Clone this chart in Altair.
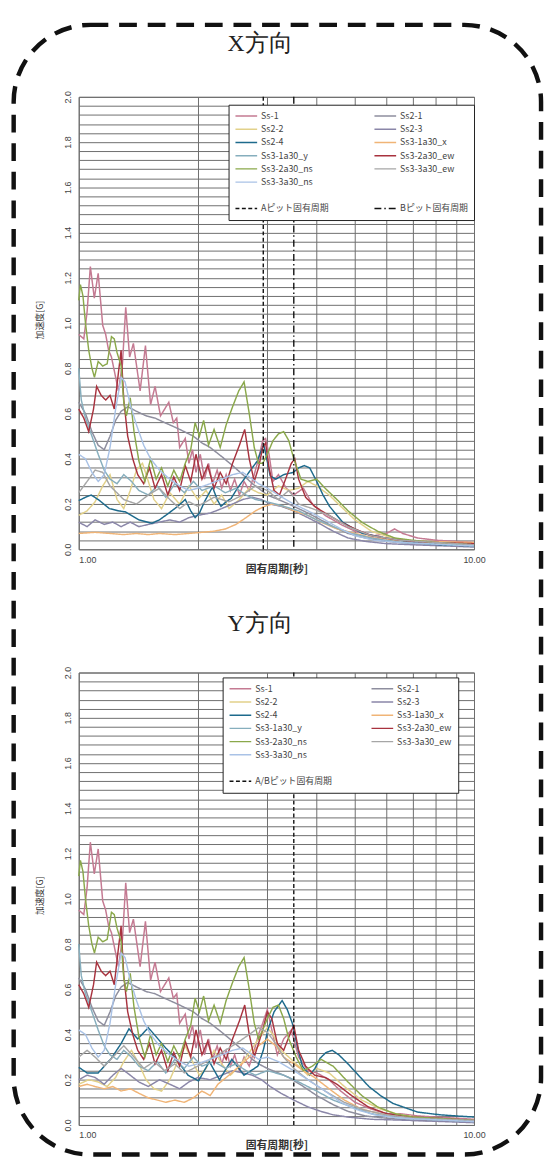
import altair as alt
import pandas as pd

# ---------------------------------------------------------------- categories
SERIES = ["Ss-1", "Ss2-1", "Ss2-2", "Ss2-3", "Ss2-4", "Ss3-1a30_x",
          "Ss3-1a30_y", "Ss3-2a30_ew", "Ss3-2a30_ns", "Ss3-3a30_ew", "Ss3-3a30_ns"]
COLORS = ["#c47a92", "#8e8e9e", "#e2d18a", "#8a86a8", "#1d6a8c", "#f0b476",
          "#86aebd", "#a8323e", "#8aa84a", "#a6a6a6", "#a9c2e6"]
WIDTHS = [1.5, 1.4, 1.5, 1.4, 2.7, 1.5, 1.4, 2.0, 1.9, 1.4, 1.4]
BLANKS = [" ", "  ", "   "]

PANEL_TITLES = ["X方向", "Y方向"]

X_PIT_NAMES = ["Aピット固有周期", "Bピット固有周期"]
X_PIT_PERIODS = [2.93, 3.5]
X_PIT_DASHES = [[4, 2.5], [7, 3, 1.5, 3]]
Y_PIT_NAMES = ["A/Bピット固有周期"]
Y_PIT_PERIODS = [3.5]
Y_PIT_DASHES = [[4, 2.5]]

PERIOD_TICKS = [1, 2, 3, 4, 5, 6, 7, 8, 9, 10]
ACC_GRID = [round(0.04 * i, 2) for i in range(51)]

# ---------------------------------------------------------------- series (period [s], acceleration [G])
SS1_COMMON = [(1.00, 0.95), (1.03, 0.93), (1.05, 1.05), (1.07, 1.25), (1.095, 1.11), (1.12, 1.22),
              (1.15, 0.99), (1.17, 0.95), (1.19, 0.88), (1.21, 0.85), (1.24, 0.76), (1.26, 0.70),
              (1.29, 0.82), (1.315, 1.07), (1.345, 0.85), (1.375, 0.91), (1.43, 0.70), (1.475, 0.90),
              (1.52, 0.64), (1.56, 0.72), (1.61, 0.59), (1.65, 0.62), (1.69, 0.65), (1.735, 0.56),
              (1.77, 0.58), (1.80, 0.45), (1.86, 0.49), (1.90, 0.38), (1.94, 0.44), (1.98, 0.34),
              (2.03, 0.42), (2.08, 0.31), (2.13, 0.38), (2.18, 0.29), (2.24, 0.35), (2.30, 0.27),
              (2.36, 0.33), (2.42, 0.26), (2.48, 0.31), (2.55, 0.24), (2.62, 0.30), (2.70, 0.26),
              (2.78, 0.33), (2.85, 0.40)]
SS1_X_LONG = [(2.92, 0.48), (2.97, 0.49), (3.03, 0.42), (3.10, 0.30), (3.20, 0.33), (3.35, 0.27),
              (3.50, 0.24), (3.70, 0.27), (3.90, 0.20), (4.20, 0.15), (4.60, 0.11), (5.00, 0.08),
              (5.60, 0.06), (6.00, 0.07), (6.30, 0.09), (6.60, 0.07), (7.20, 0.05), (8.00, 0.04),
              (9.00, 0.035), (10.0, 0.03)]
SS1_Y_LONG = [(2.92, 0.45), (3.00, 0.51), (3.08, 0.42), (3.18, 0.31), (3.30, 0.38), (3.45, 0.42),
              (3.60, 0.30), (3.80, 0.24), (4.00, 0.23), (4.30, 0.20), (4.60, 0.15), (5.00, 0.10),
              (5.50, 0.07), (6.00, 0.05), (6.50, 0.05), (7.20, 0.04), (8.00, 0.035), (9.00, 0.03),
              (10.0, 0.025)]

NS2_COMMON = [(1.00, 1.10), (1.01, 1.17), (1.025, 1.12), (1.04, 1.00), (1.06, 0.88), (1.08, 0.80),
              (1.096, 0.76), (1.12, 0.83), (1.15, 0.81), (1.18, 0.82), (1.21, 0.94), (1.23, 0.93),
              (1.25, 0.87), (1.28, 0.81), (1.30, 0.65), (1.32, 0.59), (1.35, 0.67), (1.38, 0.52),
              (1.42, 0.39), (1.47, 0.30), (1.52, 0.40), (1.57, 0.31), (1.62, 0.36), (1.68, 0.28),
              (1.74, 0.35), (1.80, 0.30), (1.86, 0.38), (1.92, 0.44), (1.97, 0.56), (2.02, 0.50),
              (2.07, 0.57), (2.13, 0.46), (2.20, 0.53), (2.28, 0.45), (2.36, 0.55), (2.45, 0.63),
              (2.54, 0.70), (2.62, 0.74), (2.70, 0.60), (2.78, 0.45), (2.85, 0.38)]
NS2_X_LONG = [(2.92, 0.38), (3.00, 0.42), (3.10, 0.48), (3.20, 0.51), (3.30, 0.52), (3.40, 0.48),
              (3.50, 0.40), (3.65, 0.31), (3.80, 0.30), (4.00, 0.31), (4.20, 0.27), (4.50, 0.22),
              (4.80, 0.17), (5.20, 0.12), (5.70, 0.08), (6.30, 0.05), (7.00, 0.04), (8.00, 0.03),
              (10.0, 0.02)]
NS2_Y_LONG = [(2.92, 0.42), (3.00, 0.47), (3.10, 0.52), (3.20, 0.53), (3.30, 0.47), (3.40, 0.38),
              (3.55, 0.30), (3.70, 0.24), (3.90, 0.26), (4.10, 0.29), (4.40, 0.26), (4.80, 0.19),
              (5.20, 0.13), (5.70, 0.08), (6.30, 0.05), (7.00, 0.035), (8.00, 0.03), (10.0, 0.02)]

EW2_COMMON = [(1.00, 0.62), (1.03, 0.58), (1.06, 0.52), (1.09, 0.62), (1.11, 0.72), (1.14, 0.68),
              (1.17, 0.66), (1.20, 0.68), (1.23, 0.62), (1.26, 0.78), (1.28, 0.88), (1.30, 0.66),
              (1.33, 0.50), (1.37, 0.40), (1.41, 0.33), (1.46, 0.29), (1.51, 0.36), (1.56, 0.27),
              (1.62, 0.33), (1.68, 0.24), (1.74, 0.32), (1.80, 0.26), (1.86, 0.37), (1.92, 0.30),
              (1.98, 0.42), (2.05, 0.31), (2.12, 0.37), (2.20, 0.27), (2.28, 0.34), (2.36, 0.29),
              (2.45, 0.38), (2.55, 0.46), (2.63, 0.53), (2.70, 0.40), (2.78, 0.30), (2.85, 0.36)]
EW2_X_LONG = [(2.92, 0.45), (2.97, 0.47), (3.03, 0.36), (3.12, 0.26), (3.22, 0.24), (3.32, 0.30),
              (3.45, 0.38), (3.52, 0.40), (3.60, 0.31), (3.75, 0.23), (3.95, 0.19), (4.20, 0.16),
              (4.60, 0.12), (5.00, 0.09), (5.50, 0.06), (6.20, 0.045), (7.00, 0.035), (8.00, 0.03),
              (10.0, 0.025)]
EW2_Y_LONG = [(2.92, 0.42), (3.00, 0.50), (3.08, 0.47), (3.18, 0.36), (3.30, 0.33), (3.42, 0.40),
              (3.50, 0.44), (3.60, 0.33), (3.75, 0.26), (3.95, 0.22), (4.20, 0.21), (4.50, 0.18),
              (4.90, 0.13), (5.40, 0.08), (6.00, 0.05), (7.00, 0.035), (8.00, 0.03), (10.0, 0.02)]

S21_COMMON = [(1.00, 0.65), (1.04, 0.60), (1.08, 0.52), (1.12, 0.46), (1.16, 0.44), (1.20, 0.50),
              (1.24, 0.57), (1.28, 0.61), (1.33, 0.63), (1.40, 0.61), (1.48, 0.59), (1.56, 0.58),
              (1.65, 0.56), (1.75, 0.54), (1.85, 0.52), (1.95, 0.50), (2.05, 0.47), (2.15, 0.45),
              (2.30, 0.41), (2.45, 0.37), (2.60, 0.33), (2.75, 0.29), (2.85, 0.27)]
S21_X_LONG = [(3.00, 0.24), (3.20, 0.22), (3.40, 0.20), (3.70, 0.17), (4.00, 0.14), (4.40, 0.10),
              (4.80, 0.07), (5.30, 0.05), (6.00, 0.035), (7.00, 0.025), (10.0, 0.015)]
S21_Y_LONG = [(3.00, 0.25), (3.20, 0.23), (3.40, 0.21), (3.70, 0.17), (4.00, 0.13), (4.40, 0.09),
              (4.80, 0.06), (5.30, 0.04), (6.00, 0.03), (7.00, 0.02), (10.0, 0.015)]

NS3_COMMON = [(1.00, 0.42), (1.04, 0.40), (1.08, 0.34), (1.12, 0.30), (1.16, 0.33), (1.20, 0.45),
              (1.24, 0.62), (1.28, 0.76), (1.31, 0.74), (1.35, 0.64), (1.40, 0.55), (1.46, 0.46),
              (1.52, 0.40), (1.60, 0.35), (1.70, 0.31), (1.80, 0.28), (1.90, 0.26), (2.00, 0.27),
              (2.15, 0.29), (2.30, 0.31), (2.45, 0.33), (2.60, 0.34), (2.75, 0.31), (2.85, 0.29)]
NS3_X_LONG = [(3.00, 0.27), (3.20, 0.24), (3.50, 0.20), (3.80, 0.17), (4.20, 0.13), (4.60, 0.09),
              (5.00, 0.06), (5.60, 0.04), (6.50, 0.03), (10.0, 0.015)]
NS3_Y_LONG = [(3.00, 0.30), (3.20, 0.28), (3.50, 0.24), (3.80, 0.20), (4.20, 0.15), (4.60, 0.10),
              (5.00, 0.07), (5.60, 0.045), (6.50, 0.03), (10.0, 0.015)]

Y1_COMMON = [(1.00, 0.80), (1.015, 0.66), (1.04, 0.58), (1.08, 0.50), (1.12, 0.42), (1.16, 0.35),
             (1.20, 0.31), (1.25, 0.29), (1.30, 0.33), (1.36, 0.30), (1.42, 0.26), (1.50, 0.24),
             (1.58, 0.28), (1.66, 0.23), (1.75, 0.29), (1.85, 0.25), (1.95, 0.30), (2.05, 0.26),
             (2.20, 0.28), (2.35, 0.25), (2.50, 0.27), (2.65, 0.24), (2.80, 0.22)]
Y1_X_LONG = [(3.00, 0.21), (3.30, 0.19), (3.60, 0.17), (4.00, 0.13), (4.40, 0.10), (4.90, 0.07),
             (5.50, 0.05), (6.50, 0.03), (10.0, 0.015)]
Y1_Y_LONG = [(3.00, 0.24), (3.30, 0.22), (3.60, 0.19), (4.00, 0.15), (4.40, 0.11), (4.90, 0.08),
             (5.50, 0.05), (6.50, 0.03), (10.0, 0.015)]

S24_X = [(1.00, 0.215), (1.04, 0.23), (1.075, 0.24), (1.12, 0.22), (1.195, 0.18), (1.26, 0.17),
         (1.315, 0.165), (1.42, 0.13), (1.53, 0.115), (1.60, 0.13), (1.69, 0.16), (1.78, 0.19),
         (1.86, 0.22), (1.92, 0.17), (1.97, 0.14), (2.02, 0.16), (2.08, 0.21), (2.18, 0.275),
         (2.24, 0.22), (2.29, 0.19), (2.36, 0.21), (2.43, 0.225), (2.52, 0.27), (2.62, 0.31),
         (2.72, 0.35), (2.83, 0.39), (2.90, 0.44), (2.94, 0.46), (2.99, 0.40), (3.05, 0.325),
         (3.15, 0.31), (3.30, 0.33), (3.49, 0.34), (3.60, 0.36), (3.72, 0.37), (3.84, 0.36),
         (4.00, 0.30), (4.15, 0.24), (4.31, 0.19), (4.65, 0.12), (5.22, 0.07), (5.97, 0.05),
         (7.07, 0.03), (8.20, 0.02), (10.0, 0.015)]
S24_Y = [(1.00, 0.255), (1.05, 0.23), (1.12, 0.23), (1.21, 0.295), (1.28, 0.36), (1.34, 0.425),
         (1.41, 0.38), (1.50, 0.43), (1.57, 0.39), (1.66, 0.34), (1.75, 0.30), (1.89, 0.22),
         (2.01, 0.195), (2.14, 0.28), (2.27, 0.20), (2.44, 0.29), (2.62, 0.22), (2.84, 0.26),
         (2.93, 0.33), (3.01, 0.42), (3.12, 0.50), (3.27, 0.55), (3.37, 0.51), (3.47, 0.45),
         (3.58, 0.34), (3.68, 0.26), (3.84, 0.22), (3.96, 0.25), (4.08, 0.295), (4.22, 0.32),
         (4.38, 0.33), (4.55, 0.31), (4.80, 0.27), (5.10, 0.22), (5.42, 0.17), (5.80, 0.13),
         (6.24, 0.095), (7.20, 0.057), (8.20, 0.045), (9.00, 0.04), (10.0, 0.035)]

S22_X = [(1.00, 0.15), (1.05, 0.17), (1.10, 0.21), (1.15, 0.28), (1.20, 0.33), (1.25, 0.22),
         (1.30, 0.18), (1.35, 0.26), (1.40, 0.35), (1.45, 0.38), (1.50, 0.30), (1.55, 0.22),
         (1.62, 0.18), (1.70, 0.25), (1.80, 0.20), (1.90, 0.28), (2.00, 0.22), (2.10, 0.26),
         (2.20, 0.20), (2.30, 0.24), (2.40, 0.18), (2.55, 0.22), (2.70, 0.27), (2.85, 0.25),
         (3.00, 0.24), (3.20, 0.28), (3.40, 0.26), (3.60, 0.27), (3.80, 0.30), (4.00, 0.28),
         (4.30, 0.24), (4.60, 0.19), (5.00, 0.13), (5.50, 0.08), (6.20, 0.05), (7.00, 0.035),
         (10.0, 0.025)]
S22_Y = [(1.00, 0.18), (1.06, 0.20), (1.12, 0.19), (1.18, 0.17), (1.24, 0.21), (1.30, 0.28),
         (1.36, 0.33), (1.42, 0.27), (1.48, 0.20), (1.55, 0.16), (1.62, 0.15), (1.70, 0.20),
         (1.78, 0.28), (1.86, 0.35), (1.94, 0.28), (2.02, 0.22), (2.10, 0.25), (2.20, 0.33),
         (2.30, 0.27), (2.42, 0.22), (2.55, 0.26), (2.70, 0.32), (2.85, 0.38), (3.00, 0.43),
         (3.10, 0.40), (3.25, 0.33), (3.40, 0.30), (3.60, 0.26), (3.80, 0.22), (4.00, 0.25),
         (4.30, 0.23), (4.70, 0.17), (5.20, 0.11), (5.80, 0.07), (6.50, 0.045), (7.50, 0.03),
         (10.0, 0.02)]

S23_X = [(1.00, 0.12), (1.05, 0.10), (1.10, 0.13), (1.16, 0.11), (1.22, 0.12), (1.28, 0.10),
         (1.35, 0.12), (1.42, 0.10), (1.50, 0.11), (1.60, 0.12), (1.70, 0.13), (1.80, 0.12),
         (1.90, 0.14), (2.00, 0.15), (2.15, 0.16), (2.30, 0.18), (2.45, 0.20), (2.60, 0.22),
         (2.75, 0.23), (2.90, 0.22), (3.05, 0.20), (3.25, 0.19), (3.50, 0.17), (3.80, 0.14),
         (4.10, 0.11), (4.40, 0.08), (4.80, 0.05), (5.30, 0.035), (6.00, 0.025), (7.00, 0.02),
         (10.0, 0.01)]
S23_Y = [(1.00, 0.20), (1.05, 0.22), (1.10, 0.21), (1.16, 0.18), (1.22, 0.22), (1.28, 0.25),
         (1.35, 0.22), (1.42, 0.19), (1.50, 0.17), (1.60, 0.20), (1.70, 0.18), (1.80, 0.16),
         (1.90, 0.19), (2.00, 0.21), (2.15, 0.20), (2.30, 0.22), (2.45, 0.24), (2.60, 0.23),
         (2.75, 0.22), (2.90, 0.20), (3.05, 0.17), (3.25, 0.14), (3.50, 0.11), (3.80, 0.08),
         (4.10, 0.06), (4.40, 0.045), (4.80, 0.035), (5.50, 0.025), (7.00, 0.02), (10.0, 0.01)]

X1X_X = [(1.00, 0.07), (1.10, 0.075), (1.20, 0.07), (1.30, 0.065), (1.40, 0.07), (1.50, 0.065),
         (1.60, 0.07), (1.75, 0.065), (1.90, 0.07), (2.05, 0.075), (2.20, 0.08), (2.35, 0.09),
         (2.50, 0.11), (2.65, 0.14), (2.80, 0.17), (2.95, 0.19), (3.10, 0.20), (3.30, 0.19),
         (3.50, 0.17), (3.80, 0.15), (4.10, 0.12), (4.50, 0.09), (5.00, 0.07), (5.60, 0.05),
         (6.50, 0.04), (7.50, 0.035), (10.0, 0.03)]
X1X_Y = [(1.00, 0.17), (1.05, 0.18), (1.10, 0.17), (1.16, 0.16), (1.22, 0.17), (1.28, 0.15),
         (1.35, 0.16), (1.42, 0.14), (1.50, 0.12), (1.58, 0.11), (1.66, 0.10), (1.75, 0.11),
         (1.85, 0.10), (1.95, 0.12), (2.05, 0.15), (2.15, 0.13), (2.25, 0.18), (2.40, 0.22),
         (2.55, 0.26), (2.70, 0.30), (2.85, 0.35), (3.00, 0.38), (3.15, 0.35), (3.30, 0.30),
         (3.50, 0.27), (3.70, 0.24), (3.95, 0.21), (4.30, 0.16), (4.70, 0.11), (5.20, 0.07),
         (5.80, 0.05), (6.50, 0.04), (7.50, 0.03), (10.0, 0.02)]

EW3_X = [(1.00, 0.25), (1.05, 0.30), (1.10, 0.35), (1.15, 0.34), (1.20, 0.28), (1.30, 0.22),
         (1.40, 0.20), (1.50, 0.24), (1.60, 0.27), (1.70, 0.22), (1.80, 0.18), (1.90, 0.21),
         (2.00, 0.19), (2.20, 0.23), (2.40, 0.21), (2.60, 0.24), (2.80, 0.28), (3.00, 0.26),
         (3.20, 0.22), (3.40, 0.26), (3.60, 0.20), (3.90, 0.18), (4.30, 0.15), (4.80, 0.10),
         (5.50, 0.06), (6.50, 0.04), (10.0, 0.02)]
EW3_Y = [(1.00, 0.30), (1.05, 0.33), (1.10, 0.30), (1.16, 0.26), (1.22, 0.30), (1.30, 0.35),
         (1.38, 0.30), (1.46, 0.25), (1.55, 0.28), (1.65, 0.24), (1.75, 0.27), (1.85, 0.23),
         (1.95, 0.25), (2.10, 0.28), (2.25, 0.31), (2.40, 0.34), (2.55, 0.37), (2.70, 0.40),
         (2.85, 0.43), (3.00, 0.41), (3.15, 0.36), (3.30, 0.30), (3.50, 0.25), (3.80, 0.20),
         (4.20, 0.15), (4.70, 0.10), (5.30, 0.065), (6.00, 0.045), (7.00, 0.03), (10.0, 0.02)]

X_DATA = {
    "Ss-1": SS1_COMMON + SS1_X_LONG, "Ss2-1": S21_COMMON + S21_X_LONG, "Ss2-2": S22_X,
    "Ss2-3": S23_X, "Ss2-4": S24_X, "Ss3-1a30_x": X1X_X, "Ss3-1a30_y": Y1_COMMON + Y1_X_LONG,
    "Ss3-2a30_ew": EW2_COMMON + EW2_X_LONG, "Ss3-2a30_ns": NS2_COMMON + NS2_X_LONG,
    "Ss3-3a30_ew": EW3_X, "Ss3-3a30_ns": NS3_COMMON + NS3_X_LONG,
}
Y_DATA = {
    "Ss-1": SS1_COMMON + SS1_Y_LONG, "Ss2-1": S21_COMMON + S21_Y_LONG, "Ss2-2": S22_Y,
    "Ss2-3": S23_Y, "Ss2-4": S24_Y, "Ss3-1a30_x": X1X_Y, "Ss3-1a30_y": Y1_COMMON + Y1_Y_LONG,
    "Ss3-2a30_ew": EW2_COMMON + EW2_Y_LONG, "Ss3-2a30_ns": NS2_COMMON + NS2_Y_LONG,
    "Ss3-3a30_ew": EW3_Y, "Ss3-3a30_ns": NS3_COMMON + NS3_Y_LONG,
}

JP = "Noto Sans CJK JP"
PLOT_W = 401
PLOT_H = 459


def panel(title, title_y, data, pit_names, pit_periods, pit_dashes, legend_x, legend_y,
          col_pad, with_frame):
    rows = [{"series": s, "T": t, "Sa": v} for s in SERIES for (t, v) in data[s]]
    df = pd.DataFrame(rows)
    pit_df = pd.DataFrame({"series": pit_names, "T": pit_periods})

    domain = SERIES + BLANKS + pit_names
    colors = COLORS + ["transparent"] * 3 + ["#111111"] * len(pit_names)
    widths = WIDTHS + [1.0] * 3 + [1.6] * len(pit_names)
    dashes = [[1, 0]] * (len(SERIES) + 3) + pit_dashes

    legend = alt.Legend(
        title=None, orient="none", legendX=legend_x, legendY=legend_y,
        direction="horizontal", columns=2, columnPadding=col_pad, rowPadding=2.4,
        clipHeight=11, symbolType="stroke", symbolSize=484, labelOffset=3,
        labelFont=JP, labelFontSize=9, labelColor="#444444",
        strokeColor="#222222", fillColor="white", padding=6, labelLimit=200,
    )
    x_axis = alt.Axis(
        values=PERIOD_TICKS, grid=True, gridColor="#6e6e6e", gridWidth=1,
        domain=False, ticks=False, tickSize=0,
        labelExpr="datum.value == 1 ? '1.00' : (datum.value == 10 ? '10.00' : '')",
        labelAlign={"condition": {"test": "datum.value <= 1", "value": "left"}, "value": "center"},
        labelFont="Liberation Sans", labelFontSize=9, labelColor="#444444", labelPadding=6,
        title="固有周期[秒]", titleFont=JP, titleFontSize=11, titleFontWeight="bold",
        titleColor="#333333", titleY=21, titleBaseline="middle",
    )
    y_axis = alt.Axis(
        values=ACC_GRID, grid=True, gridColor="#6e6e6e", gridWidth=1,
        domain=False, ticks=False, tickSize=0,
        labelExpr="(round(datum.value * 100) % 20 == 0) ? format(datum.value, '.1f') : ''",
        labelAngle=270, labelAlign="center", labelBaseline="middle", labelPadding=11,
        labelFont="Liberation Sans", labelFontSize=9, labelColor="#444444",
        title="加速度[G]", titleFont=JP, titleFontSize=9, titleFontWeight="normal",
        titleColor="#333333", titleAngle=270, titleAlign="center", titleBaseline="middle",
        titleX=-40, titleY=226,
    )
    x_scale = alt.Scale(type="log", domain=[1, 10], nice=False)
    y_scale = alt.Scale(domain=[0, 2], nice=False)

    color = alt.Color("series:N", scale=alt.Scale(domain=domain, range=colors), legend=legend)
    dash = alt.StrokeDash("series:N", scale=alt.Scale(domain=domain, range=dashes), legend=legend)
    width = alt.StrokeWidth("series:N", scale=alt.Scale(domain=domain, range=widths), legend=legend)

    lines = alt.Chart(df).mark_line().encode(
        x=alt.X("T:Q", scale=x_scale, axis=x_axis),
        y=alt.Y("Sa:Q", scale=y_scale, axis=y_axis),
        color=color, strokeDash=dash, strokeWidth=width,
    )
    rules = alt.Chart(pit_df).mark_rule().encode(
        x=alt.X("T:Q", scale=x_scale, axis=x_axis),
        color=color, strokeDash=dash, strokeWidth=width,
    )
    heading = alt.Chart(pd.DataFrame({"label": [title]})).mark_text(
        font="Liberation Serif", fontSize=24, color="#222222", align="center",
        baseline="middle",
    ).encode(text="label:N", x=alt.value(184), y=alt.value(title_y))
    layers = [lines, rules, heading]
    if with_frame:
        frame = alt.Chart(pd.DataFrame({"k": [0]})).mark_rect(
            cornerRadius=78, stroke="#111111", strokeWidth=4.5, strokeDash=[18, 11],
            fillOpacity=0,
        ).encode(x=alt.value(-66), x2=alt.value(469), y=alt.value(-73), y2=alt.value(1073))
        layers.append(frame)

    return alt.layer(*layers).properties(width=PLOT_W, height=PLOT_H)


top = panel(PANEL_TITLES[0], -54, X_DATA, X_PIT_NAMES, X_PIT_PERIODS, X_PIT_DASHES,
            152, 8, 45, True)
bottom = panel(PANEL_TITLES[1], -49, Y_DATA, Y_PIT_NAMES, Y_PIT_PERIODS, Y_PIT_DASHES,
               146, 5, 39, False)

chart = alt.vconcat(top, bottom, spacing=125, bounds="flush").resolve_scale(
    x="independent", y="independent", color="independent",
    strokeDash="independent", strokeWidth="independent",
).resolve_legend(
    color="independent", strokeDash="independent", strokeWidth="independent",
).properties(
    padding={"left": 2.75, "top": 5.75, "right": 0, "bottom": 0},
).configure_view(stroke="#666666", strokeWidth=1)

chart.save("out.html", embed_options={"renderer": "svg", "actions": False})
